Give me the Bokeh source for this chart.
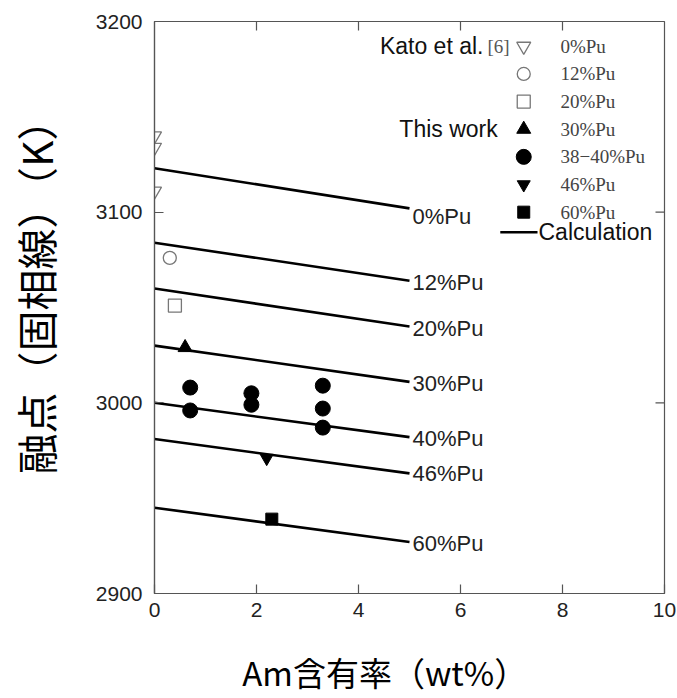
import math
from bokeh.plotting import figure
from bokeh.models import Range1d, FixedTicker
from bokeh.core.properties import value
from bokeh.embed import file_html
from bokeh.resources import INLINE

# ---------------- data ----------------
x_ticks = [0, 2, 4, 6, 8, 10]
y_ticks = [2900, 3000, 3100, 3200]

calc_labels = ["0%Pu", "12%Pu", "20%Pu", "30%Pu", "40%Pu", "46%Pu", "60%Pu"]
calc_x = [0.0, 5.0]
calc_start = [3123, 3084, 3060, 3030, 3000, 2981, 2945]
calc_end = [3102, 3064, 3040, 3011, 2982, 2963, 2927]

kato_0_x = [0.0, 0.0, 0.0]
kato_0_y = [3140, 3134, 3111]
kato_12_x = [0.3]
kato_12_y = [3076]
kato_20_x = [0.4]
kato_20_y = [3051]

tw_30_x = [0.6]
tw_30_y = [3029]
tw_40_x = [0.7, 0.7, 1.9, 1.9, 3.3, 3.3, 3.3]
tw_40_y = [3008, 2996, 3005, 2999, 3009, 2997, 2987]
tw_46_x = [2.2]
tw_46_y = [2971]
tw_60_x = [2.3]
tw_60_y = [2939]

legend_labels = ["0%Pu", "12%Pu", "20%Pu", "30%Pu", "38\u221240%Pu", "46%Pu", "60%Pu"]
group_labels = ["Kato et al.", "This work"]
calc_legend_label = "Calculation"
ref_tag = "[6]"

x_title = "Am含有率（wt%）"
y_title = "融点（固相線）（K）"

# ---------------- styling ----------------
SANS = "Liberation Sans"
SERIF = "Liberation Serif"
CJK = "Noto Sans CJK JP"
AXIS_COLOR = "#555555"
OPEN_COLOR = "#777777"
label_y_offsets = [8, 2, 2, 2, 1, 0, 1]
X_TITLE_PAD = "\u3000\u3000"   # shifts the centred x title to the left
Y_TITLE_PAD = "\u3000"         # shifts the centred y title upwards

# legend placement (data coordinates)
LEG_MARK_X = 7.24
LEG_TEXT_X = 7.96
LEG_Y0 = 3187.0
LEG_DY = 14.5
CALC_LEG_X = [6.78, 7.51]
CALC_LEG_Y = 3089.5

p = figure(width=677, height=698,
           x_range=Range1d(0, 10), y_range=Range1d(2900, 3200),
           output_backend="svg", toolbar_location=None,
           min_border_left=154, min_border_right=13,
           min_border_top=21, min_border_bottom=103)
p.xgrid.visible = False
p.ygrid.visible = False
p.outline_line_color = AXIS_COLOR
p.outline_line_width = 1.2
p.background_fill_color = "white"
p.border_fill_color = "white"

for ax, ticks in ((p.xaxis[0], x_ticks), (p.yaxis[0], y_ticks)):
    ax.ticker = FixedTicker(ticks=ticks)
    ax.axis_line_color = AXIS_COLOR
    ax.axis_line_width = 1.2
    ax.major_tick_line_color = AXIS_COLOR
    ax.major_tick_line_width = 1.2
    ax.major_tick_in = 9
    ax.major_tick_out = 0
    ax.minor_tick_in = 0
    ax.minor_tick_out = 0
    ax.minor_tick_line_color = None
    ax.major_label_text_font = SANS
    ax.major_label_text_color = "#222222"
    ax.major_label_text_font_size = "21px"
    ax.axis_label_text_font = CJK
    ax.axis_label_text_font_style = "normal"
    ax.axis_label_text_color = "black"

p.yaxis.major_label_standoff = 12
p.xaxis.major_label_standoff = 9
p.yaxis.axis_label = Y_TITLE_PAD + y_title
p.yaxis.axis_label_text_font_size = "41px"
p.yaxis.axis_label_standoff = 28
p.xaxis.axis_label = x_title + X_TITLE_PAD
p.xaxis.axis_label_text_font_size = "33px"
p.xaxis.axis_label_standoff = 28

# inward ticks on the top and right edges
p.ray(x=x_ticks[1:-1], y=[y_ticks[-1]] * len(x_ticks[1:-1]), length=9,
      length_units="screen", angle=-math.pi / 2,
      line_color=AXIS_COLOR, line_width=1.2)
p.ray(x=[x_ticks[-1]] * len(y_ticks[1:-1]), y=y_ticks[1:-1], length=9,
      length_units="screen", angle=math.pi,
      line_color=AXIS_COLOR, line_width=1.2)

# calculation lines
p.multi_line(xs=[list(calc_x) for _ in calc_start],
             ys=[[s, e] for s, e in zip(calc_start, calc_end)],
             line_color="black", line_width=2.6)
p.text(x=[calc_x[1]] * len(calc_labels), y=calc_end, text=calc_labels,
       x_offset=3, y_offset=label_y_offsets,
       text_font=value(SANS), text_font_size="22px", text_color="#222222",
       text_baseline="middle", text_align="left")

open_style = dict(fill_color=None, line_color=OPEN_COLOR, line_width=1.3)
fill_style = dict(fill_color="black", line_color="black")
series = [
    (kato_0_x, kato_0_y, "inverted_triangle", 14, open_style),
    (kato_12_x, kato_12_y, "circle", 13, open_style),
    (kato_20_x, kato_20_y, "square", 13, open_style),
    (tw_30_x, tw_30_y, "triangle", 14, fill_style),
    (tw_40_x, tw_40_y, "circle", 15, fill_style),
    (tw_46_x, tw_46_y, "inverted_triangle", 13, fill_style),
    (tw_60_x, tw_60_y, "square", 12, fill_style),
]
for xs, ys, mk, sz, st in series:
    p.scatter(xs, ys, marker=mk, size=sz, **st)

# legend (drawn by hand so that the swatches keep their size)
leg_y = [LEG_Y0 - i * LEG_DY for i in range(len(legend_labels))]
for (xs, ys, mk, sz, st), ly in zip(series, leg_y):
    p.scatter([LEG_MARK_X], [ly], marker=mk, size=sz, **st)
p.text(x=[LEG_TEXT_X] * len(legend_labels), y=leg_y, text=legend_labels,
       text_font=value(SERIF), text_font_size="19px", text_color="#444444",
       text_baseline="middle", text_align="left")
p.text(x=[6.45, 6.73], y=[leg_y[0], leg_y[3]], text=group_labels,
       text_font=value(SANS), text_font_size="23px", text_color="#111111",
       text_baseline="middle", text_align="right")
p.text(x=[6.53], y=[leg_y[0]], text=[ref_tag],
       text_font=value(SERIF), text_font_size="19px", text_color="#555555",
       text_baseline="middle", text_align="left")
p.line(x=CALC_LEG_X, y=[CALC_LEG_Y, CALC_LEG_Y], line_color="black",
       line_width=2.6)
p.text(x=[CALC_LEG_X[1]], y=[CALC_LEG_Y], text=[calc_legend_label],
       x_offset=1, text_font=value(SANS), text_font_size="23px",
       text_color="#111111", text_baseline="middle", text_align="left")

open("out.html", "w").write(file_html(p, INLINE))
